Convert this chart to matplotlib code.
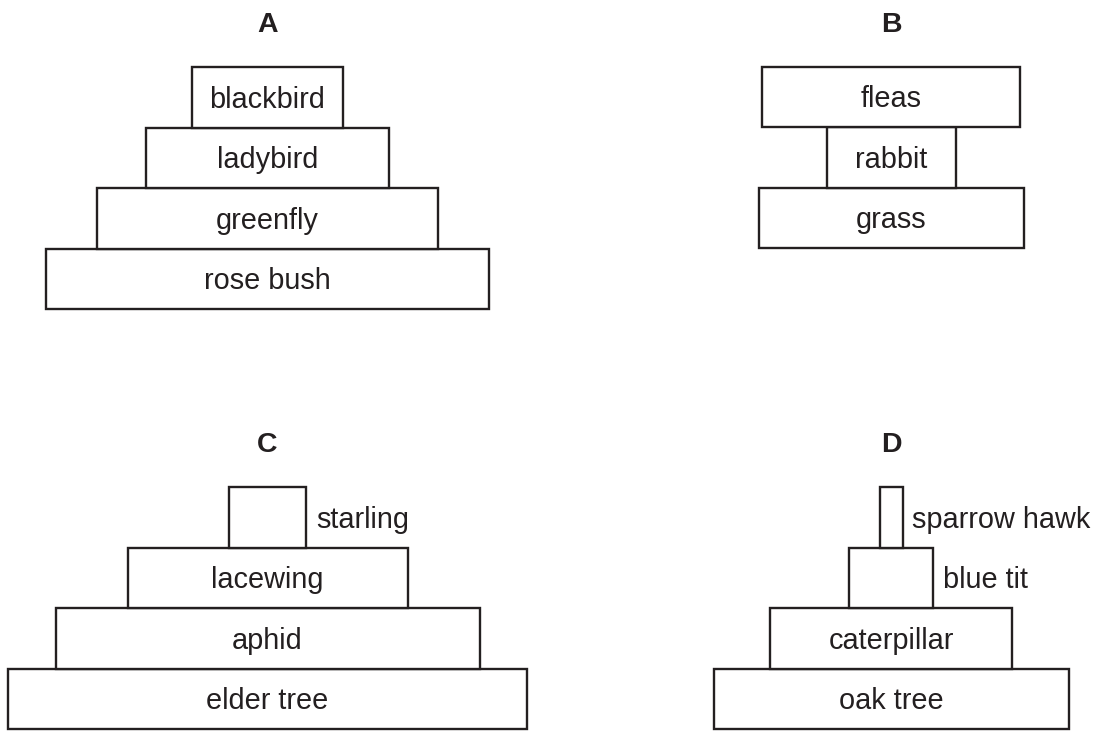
"""Four ecological pyramids (A-D) drawn as stacked boxes."""
import matplotlib.pyplot as plt
from matplotlib.patches import Rectangle

plt.rcParams["font.family"] = ["Liberation Sans", "DejaVu Sans"]

INK = "#231f20"

# pyramid letters, then each pyramid's levels from bottom to top with box widths
pyramids = ["A", "B", "C", "D"]
levels_a = ["rose bush", "greenfly", "ladybird", "blackbird"]
widths_a = [443, 341, 243, 151]
levels_b = ["grass", "rabbit", "fleas"]
widths_b = [265, 129, 258]
levels_c = ["elder tree", "aphid", "lacewing", "starling"]
widths_c = [519, 424, 280, 77]
levels_d = ["oak tree", "caterpillar", "blue tit", "sparrow hawk"]
widths_d = [355, 242, 84, 23]

# layout (pixel units of the 1101x731 canvas): centre x and bottom edge
centres = [(267.5, 309), (891, 248), (267.5, 729), (891, 729)]
ROW_H = 60.5
NARROW = 100          # boxes narrower than this get their label outside


def draw_pyramid(ax, name, levels, widths, cx, base):
    for i, (label, w) in enumerate(zip(levels, widths)):
        top = base - (i + 1) * ROW_H
        ax.add_patch(Rectangle((cx - w / 2, top), w, ROW_H, facecolor="white",
                               edgecolor=INK, lw=1.7, zorder=2 + i))
        y_text = top + ROW_H / 2 + 10.5
        if w < NARROW:
            ax.text(cx + w / 2 + 10, y_text, label, ha="left", va="baseline",
                    fontsize=20.8, color=INK)
        else:
            ax.text(cx, y_text, label, ha="center", va="baseline",
                    fontsize=20.8, color=INK, zorder=10)
    top = base - len(levels) * ROW_H
    ax.text(cx, top - 35, name, ha="center", va="baseline", fontsize=20.5,
            fontweight="bold", color=INK)


fig = plt.figure(figsize=(11.01, 7.31), dpi=100)
ax = fig.add_axes([0, 0, 1, 1])
ax.set_xlim(0, 1101)
ax.set_ylim(731, 0)
ax.axis("off")

data = [(levels_a, widths_a), (levels_b, widths_b),
        (levels_c, widths_c), (levels_d, widths_d)]
for name, (levels, widths), (cx, base) in zip(pyramids, data, centres):
    draw_pyramid(ax, name, levels, widths, cx, base)

fig.savefig("out.png", dpi=100, facecolor="white")
